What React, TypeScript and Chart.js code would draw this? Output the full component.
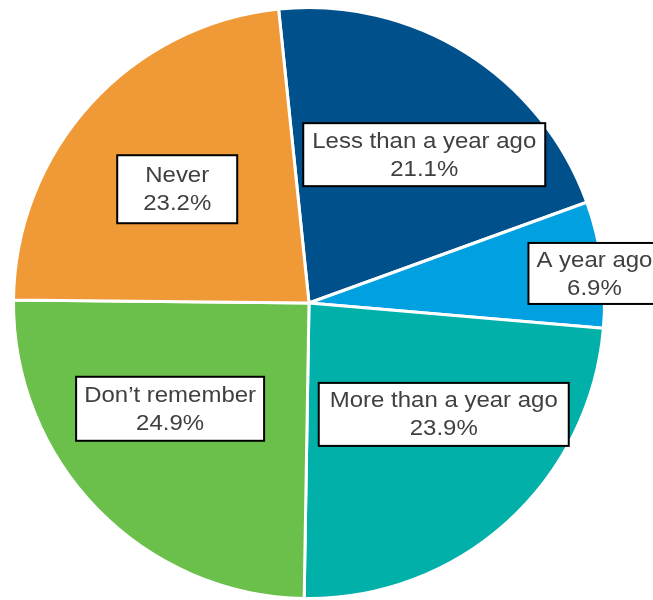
import React, { useEffect, useRef } from "react";
import { Chart, registerables } from "chart.js";

Chart.register(...registerables);

const categories = ["Less than a year ago", "A year ago", "More than a year ago", "Don\u2019t remember", "Never"];
const values = [21.1, 6.9, 23.9, 24.9, 23.2];
const valueLabels = ["21.1%", "6.9%", "23.9%", "24.9%", "23.2%"];
const colors = ["#00508C", "#00A0E1", "#00B0A9", "#6BBF4B", "#F09A37"];

// label box layout: centre offset as fraction of radius, box size in px
const labelLayout = [
  { fx: 0.39, fy: -0.502, w: 242, h: 63 },
  { fx: 0.966, fy: -0.1, w: 132, h: 61 },
  { fx: 0.456, fy: 0.377, w: 250, h: 63 },
  { fx: -0.47, fy: 0.358, w: 188, h: 64 },
  { fx: -0.446, fy: -0.385, w: 120, h: 68 },
];

const labelPlugin = {
  id: "boxLabels",
  afterDatasetsDraw(chart: any) {
    const meta = chart.getDatasetMeta(0);
    const ctx = chart.ctx as CanvasRenderingContext2D;
    meta.data.forEach((arc: any, i: number) => {
      const L = labelLayout[i];
      const r = arc.outerRadius;
      const cx = arc.x + L.fx * r;
      const cy = arc.y + L.fy * r;
      ctx.save();
      ctx.fillStyle = "#ffffff";
      ctx.strokeStyle = "#000000";
      ctx.lineWidth = 2;
      ctx.fillRect(cx - L.w / 2, cy - L.h / 2, L.w, L.h);
      ctx.strokeRect(cx - L.w / 2, cy - L.h / 2, L.w, L.h);
      ctx.fillStyle = "#404040";
      ctx.font = "22px 'Liberation Sans', Arial, sans-serif";
      ctx.textAlign = "center";
      ctx.textBaseline = "middle";
      ctx.translate(cx, cy);
      ctx.scale(1.09, 1);
      ctx.fillText(categories[i], 0, -13);
      ctx.fillText(valueLabels[i], 0, 15);
      ctx.restore();
    });
  },
};

export default function App() {
  const ref = useRef<HTMLCanvasElement>(null);
  useEffect(() => {
    if (!ref.current) return;
    const chart = new Chart(ref.current, {
      type: "pie",
      data: {
        labels: categories,
        datasets: [
          {
            data: values,
            backgroundColor: colors,
            borderColor: "#ffffff",
            borderWidth: 3,
          },
        ],
      },
      options: {
        responsive: false,
        animation: false,
        rotation: -5.9,
        layout: { padding: { left: 12, top: 6, right: 47, bottom: 0 } },
        plugins: {
          legend: { display: false },
          tooltip: { enabled: false },
        },
      },
      plugins: [labelPlugin],
    });
    return () => chart.destroy();
  }, []);
  return (
    <div style={{ position: "absolute", left: 0, top: 0, width: 653, height: 600, background: "#fff" }}>
      <canvas ref={ref} width={653} height={600} />
    </div>
  );
}
